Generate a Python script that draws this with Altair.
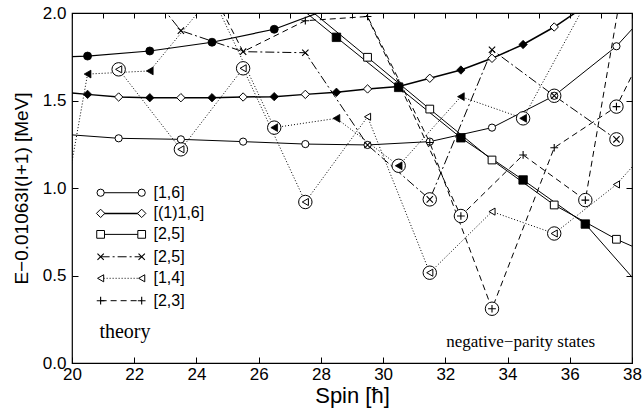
import altair as alt
import pandas as pd

# ---------------- data ----------------
# [1,6]  open circles (solid line)
A_spin = [19.5, 21.5, 23.5, 25.5, 27.5, 29.5, 31.5, 33.5, 35.5, 37.5, 39.5]
A_E    = [1.31, 1.284, 1.278, 1.265, 1.251, 1.246, 1.265, 1.345, 1.527, 1.81, 2.2]
# [1,6]  filled circles (solid line)
B_spin = [18.5, 20.5, 22.5, 24.5, 26.5, 28.5]
B_E    = [1.74, 1.754, 1.783, 1.833, 1.907, 2.04]
# [(1)1,6] diamonds (solid line), filled / open alternate
D_spin = [19.5, 20.5, 21.5, 22.5, 23.5, 24.5, 25.5, 26.5, 27.5, 28.5,
          29.5, 30.5, 31.5, 32.5, 33.5, 34.5, 35.5, 36.5]
D_E    = [1.55, 1.535, 1.52, 1.516, 1.516, 1.516, 1.52, 1.522, 1.535, 1.547,
          1.566, 1.58, 1.627, 1.674, 1.741, 1.82, 1.92, 2.04]
D_fill = [False, True, False, True, False, True, False, True, False, True,
          False, True, False, True, False, True, False, True]
# [2,5] filled squares / open squares (solid lines)
S1_spin = [26.5, 28.5, 30.5, 32.5, 34.5, 36.5, 38.5]
S1_E    = [2.15, 1.861, 1.575, 1.287, 1.046, 0.794, 0.39]
S2_spin = [27.5, 29.5, 31.5, 33.5, 35.5, 37.5, 39.5]
S2_E    = [2.04, 1.747, 1.451, 1.16, 0.903, 0.707, 0.55]
# [2,5] crosses (dash-dot line)
X_spin = [21.5, 23.5, 25.5, 27.5, 29.5, 31.5, 33.5, 35.5, 37.5]
X_E    = [2.34, 1.899, 1.779, 1.773, 1.246, 0.935, 1.79, 1.527, 1.278]
# [1,4] triangles (dotted lines): filled / open
T1_spin = [19.5, 20.5, 22.5, 24.5, 26.5, 28.5, 30.5, 32.5, 34.5, 36.5]
T1_E    = [0.65, 1.651, 1.669, 2.1, 1.345, 1.398, 1.127, 1.522, 1.398, 2.05]
T2_spin = [21.5, 23.5, 25.5, 27.5, 29.5, 31.5, 33.5, 35.5, 37.5, 38.5]
T2_E    = [1.678, 1.221, 1.684, 0.92, 1.407, 0.516, 0.865, 0.74, 1.02, 1.22]
# [2,3] plus (dashed lines)
P1_spin = [28.5, 30.5, 32.5, 34.5, 36.5, 38.5]
P1_E    = [2.35, 1.6, 0.84, 1.189, 0.931, 3.0]
P2_spin = [23.5, 25.5, 27.5, 29.5, 31.5, 33.5, 35.5, 37.5, 39.5]
P2_E    = [2.47, 1.779, 1.956, 1.98, 1.26, 0.31, 1.23, 1.465, 2.18]
P2_nomarker = [25.5]
# circled states
C_spin = [21.5, 23.5, 25.5, 27.5, 31.5, 35.5, 26.5, 30.5, 34.5,
          31.5, 35.5, 37.5, 33.5, 37.5, 32.5, 36.5]
C_E    = [1.678, 1.221, 1.684, 0.92, 0.516, 0.74, 1.345, 1.127, 1.398,
          0.935, 1.527, 1.278, 0.31, 1.465, 0.84, 0.931]

# legend
leg_labels = ["[1,6]", "[(1)1,6]", "[2,5]", "[2,5]", "[1,4]", "[2,3]"]
leg_E = [0.973, 0.855, 0.735, 0.607, 0.484, 0.356]
leg_x1, leg_x2, leg_xt = 20.92, 22.24, 22.62

x_major = [20, 22, 24, 26, 28, 30, 32, 34, 36, 38]
x_minor = [21, 23, 25, 27, 29, 31, 33, 35, 37]
x_all = list(range(20, 39))
y_ticks = [0.0, 0.5, 1.0, 1.5, 2.0]

# ---------------- helpers ----------------
XS = alt.Scale(domain=[20, 38], nice=False, zero=False)
YS = alt.Scale(domain=[0, 2], nice=False, zero=False)


def X(axis=None):
    return alt.X("spin:Q", scale=XS, axis=axis)


def Y(axis=None):
    return alt.Y("E:Q", scale=YS, axis=axis)


def df(spins, es):
    return pd.DataFrame({"spin": spins, "E": es})


def inside(spins, es, skip=()):
    rows = [(s, e) for s, e in zip(spins, es) if 20 <= s <= 38 and s not in skip]
    return df([r[0] for r in rows], [r[1] for r in rows])


def line(spins, es, dash=None, width=1.0):
    kw = dict(color="black", strokeWidth=width, clip=True)
    if dash:
        kw["strokeDash"] = dash
    return alt.Chart(df(spins, es)).mark_line(**kw).encode(x=X(), y=Y())


SH_X = "M-1,-1L1,1M-1,1L1,-1"
SH_P = "M-1,0L1,0M0,-1L0,1"


def pts(data, shape, size, kind):
    if kind == "open":
        m = dict(shape=shape, size=size, filled=True, fill="white", stroke="black",
                 strokeWidth=1, opacity=1, clip=True)
    elif kind == "filled":
        m = dict(shape=shape, size=size, filled=True, fill="black", stroke="black",
                 strokeWidth=0.8, opacity=1, clip=True)
    else:  # stroke-only glyph
        m = dict(shape=shape, size=size, filled=False, stroke="black",
                 strokeWidth=1.1, opacity=1, clip=True)
    return alt.Chart(data).mark_point(**m).encode(x=X(), y=Y())


# ---------------- axes ----------------
ax_bottom = alt.Axis(values=x_major, format="d",
                     tickSize=6, offset=-6, domain=False, grid=False,
                     labelPadding=3, labelFontSize=17, labelFlush=False,
                     labelOverlap=False, title="Spin [ħ]", titleFontSize=22,
                     titlePadding=3)
ax_bottom_minor = alt.Axis(values=x_minor, labels=False, title=None,
                           tickSize=4, offset=-4, domain=False, grid=False)
ax_left = alt.Axis(values=y_ticks, format=".1f", tickSize=6, offset=-6,
                   domain=False, grid=False, labelPadding=6, labelFontSize=17,
                   labelFlush=False, labelOverlap=False,
                   title="E−0.01063I(I+1) [MeV]", titleFontSize=19,
                   titlePadding=11)
ax_top = alt.Axis(values=x_all, orient="top", labels=False, title=None,
                  tickSize=5, offset=-5, domain=False, grid=False)
ax_right = alt.Axis(values=y_ticks, orient="right", labels=False, title=None,
                    tickSize=6, offset=-6, domain=False, grid=False)

axis_df = df(A_spin[1:3], A_E[1:3])
axis_main = alt.Chart(axis_df).mark_point(opacity=0).encode(x=X(ax_bottom), y=Y(ax_left))
axis_minor = alt.Chart(axis_df).mark_point(opacity=0).encode(x=X(ax_bottom_minor), y=Y())
axis_tr = alt.Chart(axis_df).mark_point(opacity=0).encode(x=X(ax_top), y=Y(ax_right))

# ---------------- lines ----------------
DASHDOT = [9, 3, 2, 3]
DOT = [1, 2]
DASH = [6, 4]
lines = [
    line(A_spin, A_E),
    line(B_spin, B_E, width=1.2),
    line(D_spin, D_E, width=1.5),
    line(S1_spin, S1_E),
    line(S2_spin, S2_E),
    line(X_spin, X_E, DASHDOT),
    line(T1_spin, T1_E, DOT),
    line(T2_spin, T2_E, DOT),
    line(P1_spin, P1_E, DASH),
    line(P2_spin, P2_E, DASH),
]

circles = pts(df(C_spin, C_E), "circle", 180, "open")

d_open = [(s, e) for s, e, f in zip(D_spin, D_E, D_fill) if not f]
d_fill = [(s, e) for s, e, f in zip(D_spin, D_E, D_fill) if f]

markers = [
    pts(inside(A_spin, A_E), "circle", 52, "open"),
    pts(inside(B_spin, B_E), "circle", 64, "filled"),
    pts(inside([p[0] for p in d_open], [p[1] for p in d_open]), "diamond", 70, "open"),
    pts(inside([p[0] for p in d_fill], [p[1] for p in d_fill]), "diamond", 70, "filled"),
    pts(inside(S2_spin, S2_E), "square", 60, "open"),
    pts(inside(S1_spin, S1_E), "square", 72, "filled"),
    pts(inside(T2_spin, T2_E), "triangle-left", 50, "open"),
    pts(inside(T1_spin, T1_E), "triangle-left", 60, "filled"),
    pts(inside(X_spin, X_E), SH_X, 40, "glyph"),
    pts(inside(P1_spin, P1_E), SH_P, 60, "glyph"),
    pts(inside(P2_spin, P2_E, P2_nomarker), SH_P, 60, "glyph"),
]

# ---------------- legend ----------------
leg_styles = [
    (None, 1.0, "circle", 52, "open"),
    (None, 1.5, "diamond", 70, "open"),
    (None, 1.0, "square", 60, "open"),
    (DASHDOT, 1.0, SH_X, 40, "glyph"),
    (DOT, 1.0, "triangle-left", 50, "open"),
    (DASH, 1.0, SH_P, 60, "glyph"),
]
legend = []
for e, (dash, w, shape, size, kind) in zip(leg_E, leg_styles):
    seg = pd.DataFrame({"spin": [leg_x1], "spin2": [leg_x2], "E": [e]})
    kw = dict(color="black", strokeWidth=w)
    if dash:
        kw["strokeDash"] = dash
    legend.append(alt.Chart(seg).mark_rule(**kw).encode(
        x=X(), x2="spin2:Q", y=Y()))
    legend.append(pts(df([leg_x1, leg_x2], [e, e]), shape, size, kind))

leg_text = alt.Chart(pd.DataFrame({"spin": [leg_xt] * len(leg_labels), "E": leg_E,
                                   "t": leg_labels})).mark_text(
    align="left", baseline="middle", font="Liberation Sans", fontSize=16,
    color="black").encode(x=X(), y=Y(), text="t:N")

notes = alt.Chart(pd.DataFrame({"spin": [20.88, 32.03], "E": [0.179, 0.122],
                                "t": ["theory", "negative−parity states"],
                                "fs": [20, 17]})).mark_text(
    align="left", baseline="middle", font="Liberation Serif", color="black").encode(
    x=X(), y=Y(), text="t:N", size=alt.Size("fs:Q", scale=None, legend=None))

layers = [axis_main, axis_minor] + lines + [circles] + markers + legend + \
    [leg_text, notes, axis_tr]

chart = (
    alt.layer(*layers)
    .resolve_axis(x="independent", y="independent")
    .properties(width=560, height=350,
                autosize=alt.AutoSizeParams(type="none"),
                padding={"left": 72, "top": 13, "right": 10, "bottom": 54},
                background="white")
    .configure_view(stroke="black", strokeWidth=1.2)
    .configure_axis(labelFont="Liberation Sans", titleFont="Liberation Sans",
                    labelColor="black", titleColor="black", tickColor="black",
                    titleFontWeight="normal", tickWidth=1)
)

chart.save("out.html", embed_options={"renderer": "svg", "actions": False})
